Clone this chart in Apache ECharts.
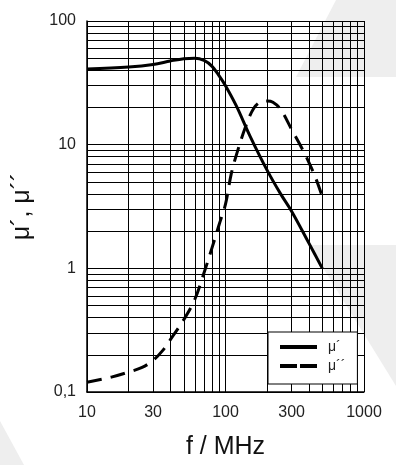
<!DOCTYPE html>
<html><head><meta charset="utf-8">
<script src="https://cdn.jsdelivr.net/npm/echarts@6/dist/echarts.min.js"></script>
<style>html,body{margin:0;padding:0;background:#fff}#c{width:396px;height:465px}</style>
</head><body><div id="c"></div>
<script>
// ---- data ----
const freqMuPrime = [10, 20, 30, 40, 50, 60, 70, 80, 90, 100, 120, 150, 200, 250, 300, 400, 500];
const muPrime     = [41, 42.5, 44.5, 47.5, 49.6, 50, 48, 43, 36, 30, 20.5, 11.8, 6.2, 4.0, 2.9, 1.6, 1.0];
const freqMuDouble = [10, 15, 20, 25, 30, 35, 40, 50, 60, 70, 80, 90, 100, 110, 120, 140, 160, 180, 200, 220, 250, 300, 350, 400, 450, 500];
const muDouble     = [0.12, 0.132, 0.145, 0.158, 0.18, 0.215, 0.265, 0.385, 0.56, 0.92, 1.47, 2.26, 3.3, 5.8, 8.3, 14.1, 19.7, 22.2, 22.5, 22, 19.3, 13.3, 9.7, 7.2, 5.3, 3.8];
const seriesNames = ['μ´', 'μ´´'];
const xGridValues = [10, 20, 30, 40, 50, 60, 70, 80, 90, 100, 200, 300, 400, 500, 600, 700, 800, 900, 1000];
const xLabelValues = [10, 30, 100, 300, 1000];
const yGridValues = [0.1, 0.2, 0.3, 0.4, 0.5, 0.6, 0.7, 0.8, 0.9, 1, 2, 3, 4, 5, 6, 7, 8, 9, 10, 20, 30, 40, 50, 60, 70, 80, 90, 100];
const yLabelValues = [0.1, 1, 10, 100];
const xTitle = 'f / MHz';
const yTitle = 'μ´, μ´´';

function pairs(xs, ys) { return xs.map((x, i) => [x, ys[i]]); }

const chart = echarts.init(document.getElementById('c'), null, { renderer: 'canvas' });
const font = 'Liberation Sans, Arial, sans-serif';
chart.setOption({
  animation: false,
  backgroundColor: '#fff',
  graphic: [
    { type: 'polygon', z: -10, silent: true, shape: { points: [[336, 0], [396, 0], [396, 77], [296, 77]] }, style: { fill: '#eeeeee' } },
    { type: 'polygon', z: -10, silent: true, shape: { points: [[309, 245], [396, 245], [396, 386]] }, style: { fill: '#eeeeee' } },
    { type: 'polygon', z: -10, silent: true, shape: { points: [[0, 421], [0, 465], [24, 465]] }, style: { fill: '#eeeeee' } }
  ],
  grid: { left: 87, right: 32, top: 21, bottom: 73, containLabel: false },
  xAxis: {
    type: 'log', logBase: 10, min: 10, max: 1000,
    name: xTitle, nameLocation: 'middle', nameGap: 43,
    nameTextStyle: { fontFamily: font, fontSize: 25, color: '#111' },
    axisLine: { show: true, lineStyle: { color: '#000', width: 1.5 } },
    axisTick: { show: false, customValues: xGridValues },
    axisLabel: { customValues: xLabelValues, fontFamily: font, fontSize: 16, color: '#222', margin: 13,
      formatter: v => String(v) },
    splitLine: { show: true, lineStyle: { color: '#000', width: 1 } }
  },
  yAxis: {
    type: 'log', logBase: 10, min: 0.1, max: 100,
    name: yTitle, nameLocation: 'middle', nameGap: 52, nameRotate: 90,
    nameTextStyle: { fontFamily: font, fontSize: 25, color: '#111' },
    axisLine: { show: true, lineStyle: { color: '#000', width: 1.5 } },
    axisTick: { show: false, customValues: yGridValues },
    axisLabel: { customValues: yLabelValues, fontFamily: font, fontSize: 16, color: '#222', margin: 11,
      formatter: v => String(v).replace('.', ',') },
    splitLine: { show: true, lineStyle: { color: '#000', width: 1 } }
  },
  legend: {
    orient: 'vertical', left: 268, top: 332,
    padding: [8, 12, 11, 12], itemGap: 5, itemWidth: 37, itemHeight: 4,
    backgroundColor: '#fff', borderColor: '#000', borderWidth: 1, borderRadius: 0,
    textStyle: { fontFamily: font, fontSize: 14, color: '#222', padding: [0, 0, 0, 6] },
    data: [
      { name: seriesNames[0], icon: 'rect' },
      { name: seriesNames[1], icon: 'path://M0,0h17v4h-17zM20,0h17v4h-17z' }
    ]
  },
  series: [
    {
      name: seriesNames[0], type: 'line', data: pairs(freqMuPrime, muPrime),
      smooth: 0.35, symbol: 'none', z: 3,
      itemStyle: { color: '#000' },
      lineStyle: { color: '#000', width: 3, type: 'solid' }
    },
    {
      name: seriesNames[1], type: 'line', data: pairs(freqMuDouble, muDouble),
      smooth: 0.35, symbol: 'none', z: 3,
      itemStyle: { color: '#000' },
      lineStyle: { color: '#000', width: 3, type: [15, 9] }
    }
  ]
});
</script></body></html>
